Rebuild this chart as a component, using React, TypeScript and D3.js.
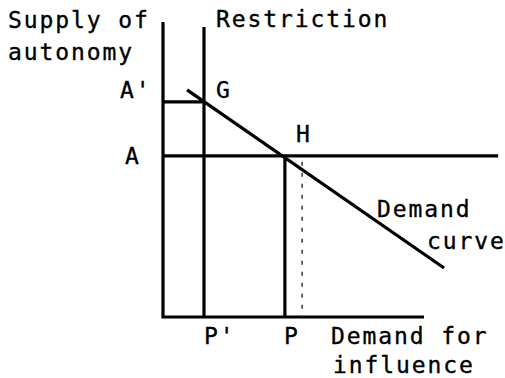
import React from "react";
import * as d3 from "d3";

// Diagram values (arbitrary units, 0-100 on each axis)
const axisX = [0, 100];
const axisY = [0, 100];
const restrictionQ = 15.7; // P'
const equilibriumQ = 46.7; // P
const dottedQ = 53.3;
const autonomyHigh = 72.9; // A'
const autonomyLow = 54.6; // A
const supplyLineEnd = 128.4;
const restrictionTop = 98.3;
const axisTop = 100;
const demandCurve: [number, number][] = [
  [9.2, 77.0],
  [107.7, 16.6],
];

const W = 505;
const H = 378;

export default function App() {
  const x = d3.scaleLinear().domain(axisX).range([163, 424]);
  const y = d3.scaleLinear().domain(axisY).range([317, 22]);
  const line = d3
    .line<[number, number]>()
    .x((d) => x(d[0]))
    .y((d) => y(d[1]));

  const font = "'DejaVu Sans Mono', 'Liberation Mono', monospace";
  const txt = {
    fontFamily: font,
    fontSize: 23,
    letterSpacing: 1.9,
    fill: "#000",
    stroke: "#000",
    strokeWidth: 0.35,
  } as const;
  const sw = 3.2;

  return (
    <svg
      width={W}
      height={H}
      style={{ position: "absolute", left: 0, top: 0, background: "#fff" }}
    >
      <rect width={W} height={H} fill="#fff" />
      {/* axes */}
      <path d={line([[0, axisTop], [0, 0], [axisX[1], 0]])!} fill="none" stroke="#000" strokeWidth={sw} />
      {/* restriction */}
      <path d={line([[restrictionQ, restrictionTop], [restrictionQ, 0]])!} stroke="#000" strokeWidth={sw} />
      {/* A' line */}
      <path d={line([[0, autonomyHigh], [restrictionQ, autonomyHigh]])!} stroke="#000" strokeWidth={sw} />
      {/* A line */}
      <path d={line([[0, autonomyLow], [supplyLineEnd, autonomyLow]])!} stroke="#000" strokeWidth={sw} />
      {/* P vertical */}
      <path d={line([[equilibriumQ, autonomyLow], [equilibriumQ, 0]])!} stroke="#000" strokeWidth={sw} />
      {/* dotted */}
      <path
        d={line([[dottedQ, autonomyLow - 2], [dottedQ, 0]])!}
        stroke="#333"
        strokeWidth={1.5}
        strokeDasharray="4 7"
      />
      {/* demand curve */}
      <path d={line(demandCurve)!} fill="none" stroke="#000" strokeWidth={sw} />

      <text x={8} y={28} {...txt}>Supply of</text>
      <text x={8} y={60} {...txt}>autonomy</text>
      <text x={216} y={27} {...txt}>Restriction</text>
      <text x={120} y={98} {...txt}>A'</text>
      <text x={125} y={164} {...txt}>A</text>
      <text x={216} y={98} {...txt}>G</text>
      <text x={296} y={142} {...txt}>H</text>
      <text x={377} y={217} {...txt}>Demand</text>
      <text x={427} y={249} {...txt}>curve</text>
      <text x={204} y={344} {...txt}>P'</text>
      <text x={284} y={344} {...txt}>P</text>
      <text x={331} y={344} {...txt}>Demand for</text>
      <text x={333} y={373} {...txt}>influence</text>
    </svg>
  );
}
